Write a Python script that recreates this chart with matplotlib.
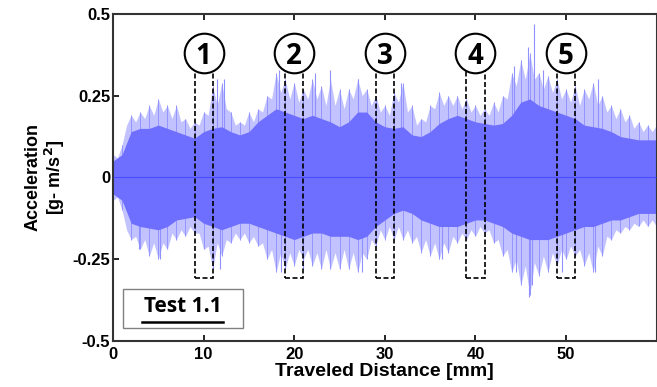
import matplotlib
matplotlib.use("Agg")
import matplotlib.pyplot as plt
from matplotlib.patches import Rectangle
import numpy as np

# ---- data (envelopes of the acceleration signal) ----
distance_mm = list(range(0, 61))
upper_outer = [0.07, 0.10, 0.19, 0.20, 0.22, 0.24, 0.22, 0.22, 0.18, 0.17,
               0.20, 0.28, 0.29, 0.20, 0.17, 0.20, 0.21, 0.25, 0.32, 0.30,
               0.29, 0.27, 0.30, 0.28, 0.30, 0.27, 0.27, 0.30, 0.27, 0.25,
               0.22, 0.26, 0.29, 0.22, 0.18, 0.22, 0.26, 0.25, 0.25, 0.24,
               0.22, 0.21, 0.23, 0.25, 0.32, 0.36, 0.38, 0.32, 0.31, 0.30,
               0.27, 0.28, 0.27, 0.29, 0.25, 0.22, 0.21, 0.19, 0.17, 0.16, 0.16]
lower_outer = [-0.07, -0.10, -0.19, -0.22, -0.24, -0.25, -0.22, -0.19, -0.18, -0.17,
               -0.22, -0.28, -0.24, -0.20, -0.19, -0.20, -0.21, -0.25, -0.29, -0.28,
               -0.27, -0.25, -0.27, -0.28, -0.28, -0.28, -0.28, -0.29, -0.25, -0.21,
               -0.19, -0.19, -0.19, -0.20, -0.23, -0.24, -0.25, -0.23, -0.20, -0.19,
               -0.18, -0.17, -0.20, -0.24, -0.29, -0.33, -0.36, -0.30, -0.29, -0.27,
               -0.25, -0.24, -0.27, -0.29, -0.24, -0.19, -0.17, -0.16, -0.15, -0.15, -0.15]
# envelope between the whole-mm samples (troughs between the spikes)
distance_mid = [i + 0.5 for i in range(0, 60)]
upper_mid = [0.06, 0.16, 0.17, 0.18, 0.19, 0.20, 0.18, 0.17, 0.15, 0.16,
             0.19, 0.22, 0.21, 0.16, 0.16, 0.17, 0.20, 0.24, 0.26, 0.24,
             0.23, 0.24, 0.24, 0.22, 0.22, 0.21, 0.24, 0.25, 0.22, 0.20,
             0.19, 0.23, 0.20, 0.16, 0.17, 0.21, 0.22, 0.22, 0.21, 0.20,
             0.19, 0.19, 0.20, 0.24, 0.28, 0.30, 0.30, 0.27, 0.26, 0.24,
             0.23, 0.22, 0.24, 0.22, 0.20, 0.18, 0.17, 0.15, 0.14, 0.14]
lower_mid = [-0.06, -0.16, -0.18, -0.19, -0.20, -0.20, -0.17, -0.16, -0.15, -0.17,
             -0.21, -0.20, -0.19, -0.17, -0.17, -0.18, -0.20, -0.22, -0.23, -0.23,
             -0.22, -0.22, -0.23, -0.22, -0.23, -0.22, -0.23, -0.23, -0.19, -0.16,
             -0.15, -0.15, -0.16, -0.18, -0.19, -0.20, -0.20, -0.18, -0.17, -0.16,
             -0.15, -0.16, -0.19, -0.22, -0.25, -0.27, -0.26, -0.24, -0.23, -0.22,
             -0.21, -0.22, -0.23, -0.21, -0.18, -0.16, -0.15, -0.14, -0.13, -0.13]
upper_core = [0.05, 0.07, 0.14, 0.15, 0.15, 0.16, 0.15, 0.14, 0.13, 0.12,
              0.14, 0.15, 0.155, 0.14, 0.13, 0.14, 0.17, 0.19, 0.21, 0.20,
              0.19, 0.18, 0.19, 0.18, 0.17, 0.155, 0.17, 0.20, 0.20, 0.17,
              0.155, 0.15, 0.155, 0.13, 0.125, 0.14, 0.165, 0.18, 0.19, 0.18,
              0.17, 0.165, 0.16, 0.165, 0.19, 0.23, 0.24, 0.22, 0.21, 0.20,
              0.19, 0.18, 0.16, 0.155, 0.15, 0.14, 0.125, 0.12, 0.115, 0.115, 0.115]
lower_core = [-0.05, -0.07, -0.14, -0.15, -0.155, -0.16, -0.15, -0.13, -0.125, -0.12,
              -0.14, -0.15, -0.16, -0.15, -0.14, -0.14, -0.15, -0.16, -0.17, -0.18,
              -0.19, -0.18, -0.17, -0.17, -0.18, -0.18, -0.18, -0.19, -0.18, -0.15,
              -0.13, -0.11, -0.10, -0.11, -0.13, -0.14, -0.15, -0.15, -0.15, -0.14,
              -0.13, -0.13, -0.14, -0.15, -0.17, -0.18, -0.19, -0.19, -0.19, -0.18,
              -0.17, -0.16, -0.15, -0.15, -0.14, -0.13, -0.13, -0.12, -0.11, -0.11, -0.11]
# isolated tall spikes (position, peak value)
spike_x = [46.5, 45.8, 18.3, 24.0, 11.5, 12.3, 27.0, 31.8, 53.5, 44.2, 47.5, 22.3,
           45.9, 46.2, 27.5, 18.5, 11.8, 53.2, 5.2, 36.3, 44.5, 49.5, 21.0, 2.9]
spike_y = [0.47, 0.40, 0.33, 0.33, 0.30, 0.30, 0.30, 0.29, 0.30, 0.34, 0.33, 0.32,
           -0.365, -0.33, -0.29, -0.29, -0.28, -0.29, -0.25, -0.25, -0.29, -0.29, -0.28, -0.22]

section_labels = ["1", "2", "3", "4", "5"]
section_start = [9, 19, 29, 39, 49]
section_width = 2
section_bottom = -0.307
section_top = 0.329
circle_y = 0.381

xticks = [0, 10, 20, 30, 40, 50]
yticks = [-0.5, -0.25, 0, 0.25, 0.5]
yticklabels = ["-0.5", "-0.25", "0", "0.25", "0.5"]

# ---- figure ----
plt.rcParams['font.family'] = ['Liberation Sans', 'DejaVu Sans']
fig = plt.figure(figsize=(6.57, 3.87), dpi=100)
ax = fig.add_axes([0.172, 0.119, 0.8275, 0.845])

# merge whole-mm and half-mm envelope samples into one jagged outline
xe = np.concatenate([distance_mm, distance_mid])
order = np.argsort(xe)
xe = xe[order]
ue = np.concatenate([upper_outer, upper_mid])[order]
le = np.concatenate([lower_outer, lower_mid])[order]

x = np.array(distance_mm, dtype=float)
ax.fill_between(xe, le, ue, color="#c2c2ff", lw=0, zorder=1)
ax.vlines(x, lower_outer, upper_outer, color="#9494ff", lw=0.7, zorder=1.5)
ax.vlines(spike_x, 0, spike_y, color="#9090ff", lw=0.8, zorder=1.6)
ax.fill_between(x, lower_core, upper_core, color="#6e6eff", lw=0, zorder=2)
ax.plot(x, np.zeros_like(x), color="#2a2aff", lw=0.8, alpha=0.5, zorder=3)

for lab, xs in zip(section_labels, section_start):
    ax.add_patch(Rectangle((xs, section_bottom), section_width, section_top - section_bottom,
                           fill=False, ec="black", ls=(0, (3, 1.5)), lw=1.2, zorder=5))
    ax.plot([xs + section_width / 2], [circle_y], marker="o", ms=28.5, mfc="white",
            mec="black", mew=1.5, zorder=6)
    ax.text(xs + section_width / 2, circle_y, lab, ha="center", va="center_baseline",
            fontsize=20, fontweight="bold", family=["Open Sans", "DejaVu Sans"], zorder=7)

# Test label box
ax.add_patch(Rectangle((0.018, 0.040), 0.221, 0.119, transform=ax.transAxes,
                       fill=False, ec="#808080", lw=1.0, zorder=6))
ax.text(0.128, 0.104, "Test 1.1", transform=ax.transAxes, ha="center", va="center",
        fontsize=15, fontweight="bold", family=["Open Sans", "DejaVu Sans"], zorder=7)
ax.plot([0.054, 0.203], [0.058, 0.058], transform=ax.transAxes, color="black",
        lw=1.8, zorder=7)

ax.set_xlim(0, 60)
ax.set_ylim(-0.5, 0.5)
ax.set_xticks(xticks)
ax.set_xticklabels([str(t) for t in xticks])
ax.set_yticks(yticks)
ax.set_yticklabels(yticklabels)
ax.tick_params(direction="in", length=4, width=1.2, top=True, right=False,
               labelsize=12)
ax.tick_params(axis="x", pad=4)
ax.tick_params(axis="y", pad=2)
for lbl in ax.get_xticklabels() + ax.get_yticklabels():
    lbl.set_fontweight("bold")
for side in ["left", "bottom", "top", "right"]:
    ax.spines[side].set_linewidth(1.5)
    ax.spines[side].set_color("#333333")

ax.set_xlabel("Traveled Distance [mm]", fontsize=14, fontweight="bold", labelpad=1)
ax.set_ylabel("Acceleration\n[g- m/s$^\\mathbf{2}$]", fontsize=13, fontweight="bold",
              labelpad=4, linespacing=1.05)

fig.savefig("out.png", dpi=100)
